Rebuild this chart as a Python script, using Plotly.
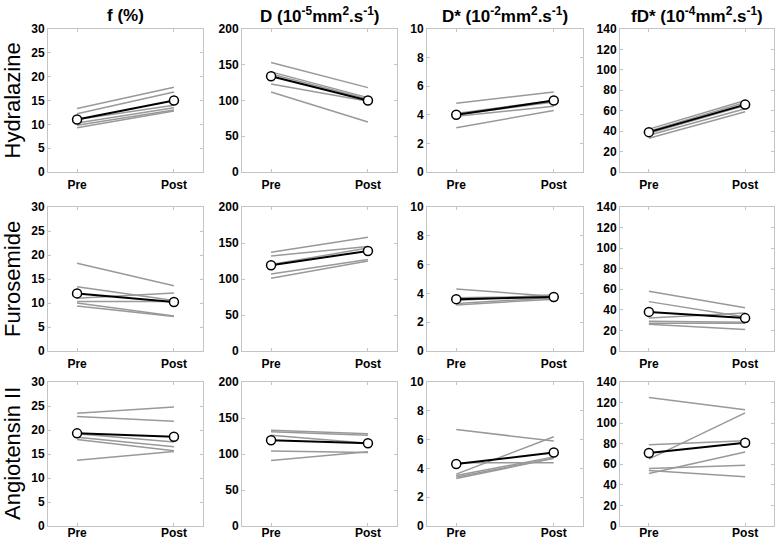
import plotly.graph_objects as go
from plotly.subplots import make_subplots

TIMES = ["Pre", "Post"]
DRUGS = ["Hydralazine", "Furosemide", "Angiotensin II"]
PARAMS = ["f (%)", "D (10<sup>-5</sup>mm<sup>2</sup>.s<sup>-1</sup>)",
          "D* (10<sup>-2</sup>mm<sup>2</sup>.s<sup>-1</sup>)", "fD* (10<sup>-4</sup>mm<sup>2</sup>.s<sup>-1</sup>)"]
Y_MAX = [30, 200, 10, 140]
Y_STEP = [5, 50, 2, 20]

# individual animals (pre, post) and group means
hyd_f_pre = [13.3, 12.2, 11.0, 10.3, 9.8, 9.3]
hyd_f_post = [17.8, 16.8, 14.0, 13.5, 13.0, 12.8]
hyd_f_mean = [11.0, 15.0]
hyd_d_pre = [153, 140, 137, 123, 112]
hyd_d_post = [118, 104, 102, 99, 70]
hyd_d_mean = [134, 100]
hyd_ds_pre = [4.8, 4.1, 4.0, 3.9, 3.1]
hyd_ds_post = [5.6, 5.0, 4.9, 4.6, 4.3]
hyd_ds_mean = [4.0, 5.0]
hyd_fd_pre = [42, 40, 38, 36, 33]
hyd_fd_post = [70, 68, 65, 62, 59]
hyd_fd_mean = [39, 66]

fur_f_pre = [18.3, 13.4, 11.0, 10.3, 10.0, 9.4]
fur_f_post = [13.6, 10.5, 12.1, 10.3, 7.3, 7.2]
fur_f_mean = [12.0, 10.2]
fur_d_pre = [137, 132, 120, 107, 101]
fur_d_post = [158, 145, 143, 127, 125]
fur_d_mean = [119, 139]
fur_ds_pre = [4.3, 3.7, 3.5, 3.3, 3.2]
fur_ds_post = [3.8, 3.8, 3.9, 3.7, 3.6]
fur_ds_mean = [3.6, 3.75]
fur_fd_pre = [58, 48, 32, 29, 27, 26]
fur_fd_post = [42, 33, 37, 28, 27, 21]
fur_fd_mean = [38, 32]

ang_f_pre = [23.5, 22.8, 19.2, 18.5, 18.0, 13.7]
ang_f_post = [24.8, 21.8, 17.5, 16.5, 15.7, 15.5]
ang_f_mean = [19.3, 18.6]
ang_d_pre = [133, 131, 126, 104, 91]
ang_d_post = [128, 126, 115, 102, 103]
ang_d_mean = [119, 115]
ang_ds_pre = [6.7, 3.6, 4.4, 3.5, 3.4, 3.3]
ang_ds_post = [5.9, 6.2, 4.4, 4.8, 4.7, 4.7]
ang_ds_mean = [4.3, 5.1]
ang_fd_pre = [125, 65, 79, 51, 56, 54]
ang_fd_post = [113, 110, 83, 72, 59, 48]
ang_fd_mean = [71, 81]

panels = [
    [(hyd_f_pre, hyd_f_post, hyd_f_mean), (hyd_d_pre, hyd_d_post, hyd_d_mean),
     (hyd_ds_pre, hyd_ds_post, hyd_ds_mean), (hyd_fd_pre, hyd_fd_post, hyd_fd_mean)],
    [(fur_f_pre, fur_f_post, fur_f_mean), (fur_d_pre, fur_d_post, fur_d_mean),
     (fur_ds_pre, fur_ds_post, fur_ds_mean), (fur_fd_pre, fur_fd_post, fur_fd_mean)],
    [(ang_f_pre, ang_f_post, ang_f_mean), (ang_d_pre, ang_d_post, ang_d_mean),
     (ang_ds_pre, ang_ds_post, ang_ds_mean), (ang_fd_pre, ang_fd_post, ang_fd_mean)],
]

W, H = 778, 539
COL_PX = [(48, 203), (242, 397), (427, 583), (620, 774)]
ROW_PX = [(29, 172), (207, 351), (382, 526)]
FONT = "Liberation Sans, Arial, Helvetica, sans-serif"
FRAME = "#c4c4c4"

fig = make_subplots(rows=3, cols=4)

for r in range(3):
    for c in range(4):
        pre, post, mean = panels[r][c]
        for a, b in zip(pre, post):
            fig.add_trace(go.Scatter(x=[1, 2], y=[a, b], mode="lines",
                                     line=dict(color="#999999", width=1.5),
                                     showlegend=False, hoverinfo="skip"),
                          row=r + 1, col=c + 1)
        fig.add_trace(go.Scatter(x=[1, 2], y=mean, mode="lines+markers",
                                 line=dict(color="black", width=2),
                                 marker=dict(symbol="circle", size=9, color="white",
                                             line=dict(color="black", width=1.5)),
                                 showlegend=False),
                      row=r + 1, col=c + 1)

        idx = r * 4 + c + 1
        sfx = "" if idx == 1 else str(idx)
        x0, x1 = COL_PX[c]
        y0, y1 = ROW_PX[r]
        fig.layout["xaxis" + sfx].update(
            domain=[x0 / W, x1 / W], range=[0.7, 2.3], tickvals=[1, 2], ticktext=TIMES,
            showline=True, linecolor=FRAME, linewidth=1, mirror="ticks", automargin=False,
            ticks="inside", ticklen=3, tickcolor=FRAME, showgrid=False, zeroline=False,
            ticklabelstandoff=-4 if r == 2 else 2,
            tickfont=dict(family=FONT, size=12, color="black", weight="bold"))
        fig.layout["yaxis" + sfx].update(
            domain=[1 - y1 / H, 1 - y0 / H], range=[0, Y_MAX[c]], dtick=Y_STEP[c],
            showline=True, linecolor=FRAME, linewidth=1, mirror="ticks", automargin=False,
            ticks="inside", ticklen=3, tickcolor=FRAME, showgrid=False, zeroline=False,
            tickfont=dict(family=FONT, size=12, color="black", weight="bold"))

for c, title in enumerate(PARAMS):
    x0, x1 = COL_PX[c]
    fig.add_annotation(text="<b>" + title + "</b>", xref="paper", yref="paper",
                       x=(x0 + x1) / 2 / W, y=1 - 15 / H, showarrow=False,
                       xanchor="center", yanchor="middle",
                       font=dict(family=FONT, size=17, color="black"))

for r, drug in enumerate(DRUGS):
    y0, y1 = ROW_PX[r]
    fig.add_annotation(text=drug, xref="paper", yref="paper", textangle=-90,
                       x=12 / W, y=1 - (y0 + y1) / 2 / H, showarrow=False,
                       xanchor="center", yanchor="middle",
                       font=dict(family=FONT, size=22, color="black"))

fig.update_layout(width=W, height=H, margin=dict(l=0, r=0, t=0, b=0, autoexpand=False),
                  plot_bgcolor="white", paper_bgcolor="white")

# drop the default page margin so the figure sits at the window corner
fig.write_html("out.html", config={"displayModeBar": False},
               post_script="document.body.style.margin='0';")
